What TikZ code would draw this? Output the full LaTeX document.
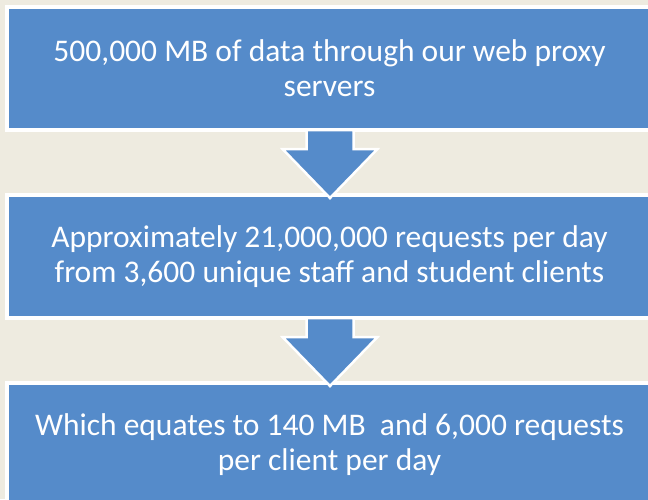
\documentclass[tikz,border=0pt]{standalone}
\usepackage{fontspec}
\setmainfont{Carlito}
\usetikzlibrary{positioning}

\definecolor{pagebg}{RGB}{238,235,224}
\definecolor{boxblue}{RGB}{85,139,202}

\begin{document}
\begin{tikzpicture}[
        x=1pt, y=-1pt,
        stagebox/.style={rectangle, draw=white, line width=4pt, fill=boxblue, outer sep=0pt,
            minimum width=646pt, minimum height=123pt, align=center, text=white,
            font=\fontsize{31.5}{35}\selectfont},
        blockarrow/.style={draw=white, line width=2.5pt, fill=boxblue, line join=miter}
    ]

        % page
        \fill[pagebg] (0,0) rectangle (648,499);
        \useasboundingbox (0,0) rectangle (648,499);

        % Stages
        \node[stagebox] (box1) at (329.5,68.5) {500,000 MB of data through our web proxy\\servers};
        \node[stagebox, below=65pt of box1] (box2) {Approximately 21,000,000 requests per day\\from 3,600 unique staff and student clients};
        \node[stagebox, below=65pt of box2] (box3) {Which equates to 140 MB\ \ and 6,000 requests\\per client per day};

        % Arrows between stages
        \draw[blockarrow] ([xshift=-23]box1.south) -- ++(0,19) -- ++(-24,0) -- ++(47.5,49)
            -- ++(47.5,-49) -- ++(-24,0) -- ++(0,-19) -- cycle;
        \draw[blockarrow] ([xshift=-23]box2.south) -- ++(0,19) -- ++(-24,0) -- ++(47.5,49)
            -- ++(47.5,-49) -- ++(-24,0) -- ++(0,-19) -- cycle;

    \end{tikzpicture}
\end{document}
